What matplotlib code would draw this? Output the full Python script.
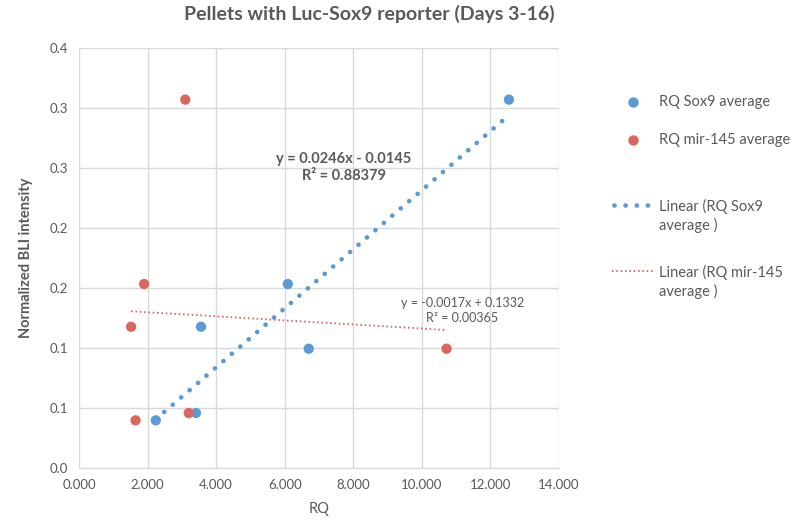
import matplotlib.pyplot as plt
from matplotlib.lines import Line2D
import numpy as np

# data
bli = [0.0397, 0.0458, 0.1177, 0.0994, 0.1533, 0.307]
rq_sox9 = [2.24, 3.41, 3.56, 6.70, 6.09, 12.54]
rq_mir145 = [1.65, 3.20, 1.52, 10.72, 1.90, 3.10]

x_ticks = [0, 2, 4, 6, 8, 10, 12, 14]
x_labels = ['0.000', '2.000', '4.000', '6.000', '8.000', '10.000', '12.000', '14.000']
y_ticks = [0, 0.05, 0.10, 0.15, 0.20, 0.25, 0.30, 0.35]
y_labels = ['0.0', '0.1', '0.1', '0.2', '0.2', '0.3', '0.3', '0.4']

# trendline coefficients as printed on the chart
sox9_fit = (0.0246, -0.0145)
mir_fit = (-0.0017, 0.1332)

blue = '#5B9BD5'
red = '#D9675E'
gray = '#595959'

plt.rcParams['font.family'] = ['Lato', 'DejaVu Sans']

fig = plt.figure(figsize=(8, 5.23), dpi=100)
ax = fig.add_axes([0.09875, 0.1052, 0.6, 0.803])

# trendlines
xs = np.array([min(rq_sox9), max(rq_sox9)])
ax.plot(xs, sox9_fit[0] * xs + sox9_fit[1], color=blue, lw=3.4,
        linestyle=(0, (0.01, 2.35)), dash_capstyle='round', zorder=2)
xm = np.array([min(rq_mir145), max(rq_mir145)])
ax.plot(xm, mir_fit[0] * xm + mir_fit[1], color=red, lw=1.3,
        linestyle=(0, (0.9, 1.5)), zorder=2)

ax.scatter(rq_sox9, bli, s=55, color=blue, edgecolors='none', zorder=3)
ax.scatter(rq_mir145, bli, s=55, color=red, edgecolors='none', zorder=3)

ax.set_xlim(0, 14)
ax.set_ylim(0, 0.35)
ax.set_xticks(x_ticks)
ax.set_xticklabels(x_labels)
ax.set_yticks(y_ticks)
ax.set_yticklabels(y_labels)
ax.grid(True, color='#D9D9D9', lw=1)
ax.set_axisbelow(True)
for s in ['top', 'right', 'left']:
    ax.spines[s].set_visible(False)
ax.spines['bottom'].set_color('#D9D9D9')
ax.tick_params(length=0, labelsize=9.5, colors=gray, pad=8)

ax.set_xlabel('RQ', fontsize=10.5, color=gray, labelpad=8)
ax.set_ylabel('Normalized BLI intensity', fontsize=10.5, color=gray,
              fontweight='bold', labelpad=12)
fig.suptitle('Pellets with Luc-Sox9 reporter (Days 3-16)', x=0.462, y=0.99,
             fontsize=14, fontweight='bold', color=gray)

ax.text(7.72, 0.2506, 'y = 0.0246x - 0.0145\nR² = 0.88379', ha='center', va='center',
        fontsize=10.5, fontweight='bold', color=gray, linespacing=1.25)
ax.text(11.18, 0.131, 'y = -0.0017x + 0.1332\nR² = 0.00365', ha='center', va='center',
        fontsize=9, color=gray, linespacing=1.3)

# legend drawn by hand to match the loose spacing
H = 523.0
def fy(py):
    return 1 - py / H

fig.add_artist(Line2D([633 / 800], [fy(102)], marker='o', ms=7.5, color=blue,
                      mec='none', ls='none', transform=fig.transFigure))
fig.add_artist(Line2D([633 / 800], [fy(140)], marker='o', ms=7.5, color=red,
                      mec='none', ls='none', transform=fig.transFigure))
fig.add_artist(Line2D([614 / 800, 652 / 800], [fy(205), fy(205)], color=blue, lw=3.4,
                      linestyle=(0, (0.01, 2.35)), dash_capstyle='round',
                      transform=fig.transFigure))
fig.add_artist(Line2D([612 / 800, 653 / 800], [fy(271), fy(271)], color=red, lw=1.3,
                      linestyle=(0, (0.9, 1.5)), transform=fig.transFigure))

leg_kw = dict(fontsize=10.5, color=gray, ha='left', va='center', linespacing=1.35)
fig.text(659 / 800, fy(102), 'RQ Sox9 average', **leg_kw)
fig.text(659 / 800, fy(140), 'RQ mir-145 average', **leg_kw)
fig.text(659 / 800, fy(216), 'Linear (RQ Sox9\naverage )', **leg_kw)
fig.text(659 / 800, fy(282), 'Linear (RQ mir-145\naverage )', **leg_kw)

fig.savefig('out.png', dpi=100)
